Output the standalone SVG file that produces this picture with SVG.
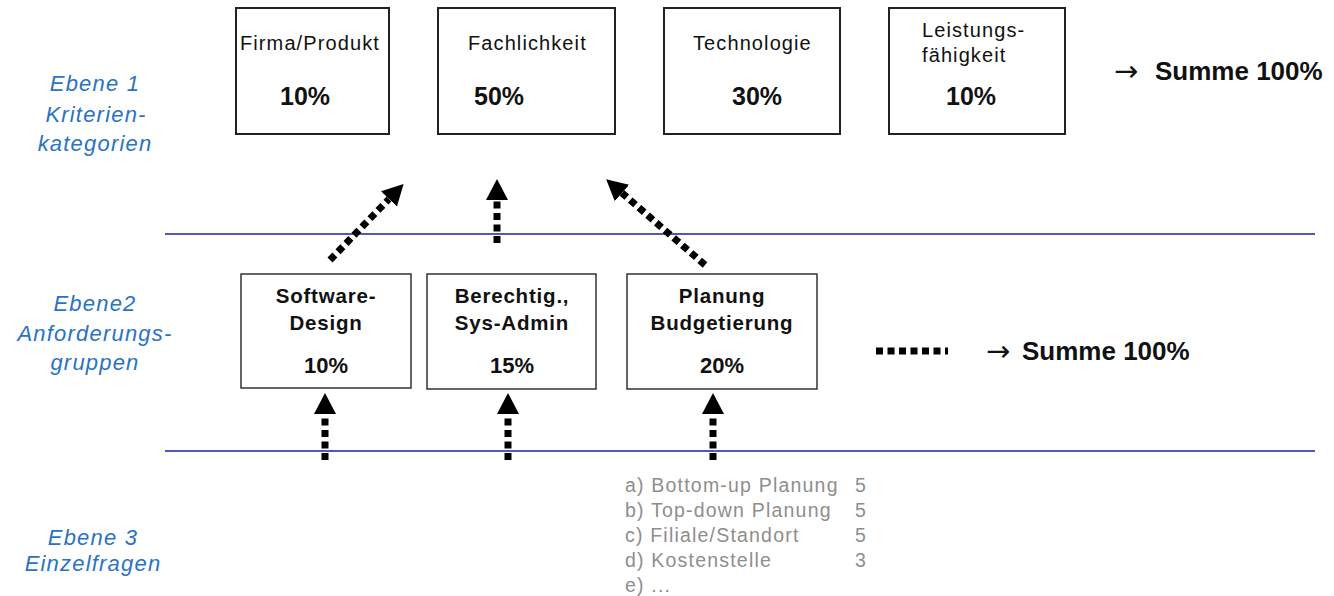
<svg xmlns="http://www.w3.org/2000/svg" width="1334" height="596" viewBox="0 0 1334 596">
<style>
.box{fill:#fff;stroke:#222;stroke-width:2}
.box2{fill:#fff;stroke:#333;stroke-width:1.5}
.lvl{font-family:"Liberation Sans",Arial,sans-serif;font-style:italic;font-size:22px;letter-spacing:1.2px;fill:#2a72c4;text-anchor:middle}
.t1{font-family:"Liberation Sans",Arial,sans-serif;font-size:20px;letter-spacing:1.1px;fill:#111}
.p1{font-family:"Liberation Sans",Arial,sans-serif;font-size:25px;font-weight:bold;fill:#111}
.t2{font-family:"Liberation Sans",Arial,sans-serif;font-size:20.5px;font-weight:bold;letter-spacing:0.8px;fill:#111;text-anchor:middle}
.p2{font-family:"Liberation Sans",Arial,sans-serif;font-size:22px;font-weight:bold;fill:#111;text-anchor:middle}
.sum{font-family:"Liberation Sans",Arial,sans-serif;font-size:26px;font-weight:bold;fill:#111}
.arr{font-family:"DejaVu Sans",sans-serif;font-size:29px;fill:#111}
.q{font-family:"Liberation Sans",Arial,sans-serif;font-size:19.5px;letter-spacing:1.2px;fill:#8e8e8e}
.sep{stroke:#1c1ca8;stroke-width:1.5}
.dot{fill:none;stroke:#000;stroke-width:7;stroke-dasharray:7 4.5}
</style>
<defs>
<marker id="head" markerUnits="userSpaceOnUse" markerWidth="22" markerHeight="24" viewBox="0 -12 22 24" refX="0" refY="0" orient="auto">
<path d="M0,-11 L21,0 L0,11 Z" fill="#000"/>
</marker>
</defs>

<g id="level-labels">
<text class="lvl" x="95" y="91">Ebene 1</text>
<text class="lvl" x="96" y="122">Kriterien-</text>
<text class="lvl" x="95" y="151">kategorien</text>
<text class="lvl" x="95" y="311">Ebene2</text>
<text class="lvl" x="95" y="341">Anforderungs-</text>
<text class="lvl" x="95" y="370">gruppen</text>
<text class="lvl" x="93" y="545">Ebene 3</text>
<text class="lvl" x="93" y="571">Einzelfragen</text>
</g>

<g id="separators">
<line class="sep" x1="165" y1="234" x2="1315" y2="234"/>
<line class="sep" x1="165" y1="451" x2="1315" y2="451"/>
</g>

<g id="n-firma">
<rect class="box" x="236" y="8" width="153" height="126"/>
<text class="t1" x="240" y="50">Firma/Produkt</text>
<text class="p1" x="280" y="105">10%</text>
</g>
<g id="n-fach">
<rect class="box" x="438" y="8" width="177" height="126"/>
<text class="t1" x="468" y="50">Fachlichkeit</text>
<text class="p1" x="474" y="105">50%</text>
</g>
<g id="n-tech">
<rect class="box" x="664" y="8" width="176" height="126"/>
<text class="t1" x="693" y="50">Technologie</text>
<text class="p1" x="732" y="105">30%</text>
</g>
<g id="n-leist">
<rect class="box" x="889" y="8" width="176" height="126"/>
<text class="t1" x="922" y="37">Leistungs-</text>
<text class="t1" x="922" y="62">fähigkeit</text>
<text class="p1" x="946" y="105">10%</text>
</g>
<g id="sum1">
<text class="arr" x="1114" y="81">→</text>
<text class="sum" x="1155" y="80">Summe 100%</text>
</g>

<g id="n-software">
<rect class="box2" x="241" y="274" width="170" height="114"/>
<text class="t2" x="326" y="303">Software-</text>
<text class="t2" x="326" y="330">Design</text>
<text class="p2" x="326" y="373">10%</text>
</g>
<g id="n-berecht">
<rect class="box2" x="427" y="274" width="169" height="115"/>
<text class="t2" x="512" y="303">Berechtig.,</text>
<text class="t2" x="512" y="330">Sys-Admin</text>
<text class="p2" x="512" y="373">15%</text>
</g>
<g id="n-planung">
<rect class="box2" x="627" y="274" width="190" height="115"/>
<text class="t2" x="722" y="303">Planung</text>
<text class="t2" x="722" y="330">Budgetierung</text>
<text class="p2" x="722" y="373">20%</text>
</g>
<g id="sum2">
<text class="arr" x="986" y="361">→</text>
<text class="sum" x="1022" y="360">Summe 100%</text>
</g>

<g id="n-fragen">
<text class="q" x="625" y="492">a) Bottom-up Planung</text>
<text class="q" x="855" y="492">5</text>
<text class="q" x="625" y="517">b) Top-down Planung</text>
<text class="q" x="855" y="517">5</text>
<text class="q" x="625" y="542">c) Filiale/Standort</text>
<text class="q" x="855" y="542">5</text>
<text class="q" x="625" y="567">d) Kostenstelle</text>
<text class="q" x="855" y="567">3</text>
<text class="q" x="625" y="592">e) ...</text>
</g>

<g id="connectors">
<path class="dot" d="M330,260 L389,199" marker-end="url(#head)"/>
<path class="dot" d="M497,243 L497,200" marker-end="url(#head)"/>
<path class="dot" d="M705,265 L622,193" marker-end="url(#head)"/>
<path class="dot" d="M325,460 L325,414" marker-end="url(#head)"/>
<path class="dot" d="M508,460 L508,414" marker-end="url(#head)"/>
<path class="dot" d="M713,460 L713,414" marker-end="url(#head)"/>
<path class="dot" d="M876,351 L948,351"/>
</g>
</svg>
